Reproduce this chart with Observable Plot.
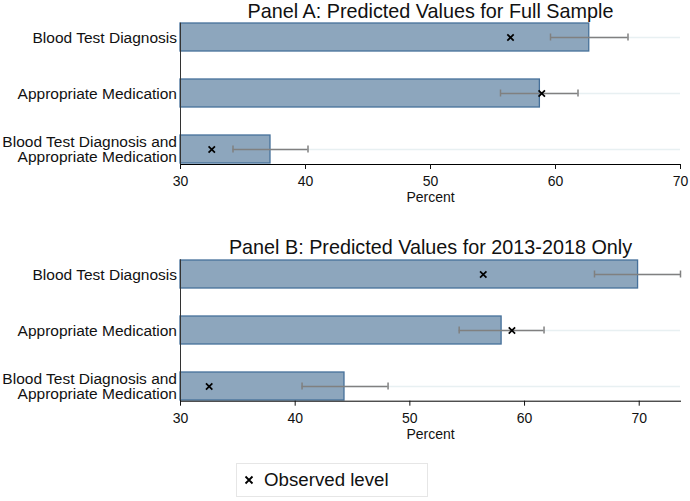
<!DOCTYPE html>
<html><head><meta charset="utf-8">
<script src="https://cdn.jsdelivr.net/npm/d3@7"></script>
<script src="https://cdn.jsdelivr.net/npm/@observablehq/plot@0.6"></script>
<style>
body{margin:0;background:#fff;font-family:"Liberation Sans",Arial,sans-serif;}
#wrap{position:relative;width:690px;height:501px;overflow:hidden;background:#fff}
#a{position:absolute;left:0;top:0}
#b{position:absolute;left:0;top:222px}
#legend{position:absolute;left:236px;top:463px;width:190px;height:32px;border:1px solid #e6e6e6;box-sizing:content-box}
#legend svg{position:absolute;left:7px;top:11px}
#legend span{position:absolute;left:27px;top:5px;font-size:18.7px;color:#111;line-height:22px}
</style></head>
<body>
<div id="wrap">
  <div id="a"></div>
  <div id="b"></div>
  <div id="legend"><svg width="10" height="10"><path d="M1.5,1.5L8.5,8.5M8.5,1.5L1.5,8.5" stroke="#000" stroke-width="1.8"/></svg><span>Observed level</span></div>
</div>
<script>
const categories = ["Blood Test Diagnosis", "Appropriate Medication", "Blood Test Diagnosis and\nAppropriate Medication"];
const observed = [56.4, 58.9, 32.5];
const panelA_pred = [62.7, 58.75, 37.2];
const panelA_lo = [59.6, 55.6, 34.2];
const panelA_hi = [65.8, 61.8, 40.2];
const panelB_pred = [69.9, 58.0, 44.3];
const panelB_lo = [66.1, 54.3, 40.6];
const panelB_hi = [73.6, 61.7, 48.1];
const xTicks = [30, 40, 50, 60, 70];
const xBase = 30;
const panelA_max = 70;
const panelB_max = 73.6;
const titleA = "Panel A: Predicted Values for Full Sample";
const titleB = "Panel B: Predicted Values for 2013-2018 Only";
const xLabel = "Percent";
const legendLabel = "Observed level";

const FONT = '"Liberation Sans", Arial, sans-serif';

function panel(title, pred, lo, hi, xmax, opts) {
  const rows = categories.map((c, i) => ({cat: c, pred: pred[i], lo: lo[i], hi: hi[i], obs: observed[i]}));
  const errStyle = {stroke: "#808080", strokeWidth: 1.5};
  return Plot.plot({
    width: 690,
    height: opts.height,
    marginLeft: 180,
    marginRight: 10,
    marginTop: opts.marginTop,
    marginBottom: opts.height - opts.bottomY,
    style: {fontFamily: FONT, fontSize: "14px", background: "white", color: "#111"},
    x: {domain: [xBase, xmax], label: null},
    y: {domain: categories, paddingInner: 0.5, paddingOuter: 0, label: null},
    marks: [
      Plot.ruleY(rows, {y: "cat", stroke: "#e8f0f2", strokeWidth: 1.5}),
      Plot.barX(rows, {y: "cat", x1: xBase, x2: "pred", fill: "#8da6bd", stroke: "#46709a", strokeWidth: 1.3}),
      Plot.ruleY(rows, {y: "cat", x1: "lo", x2: "hi", ...errStyle}),
      Plot.tickX(rows, {y: "cat", x: "lo", insetTop: 10.5, insetBottom: 10.5, ...errStyle}),
      Plot.tickX(rows, {y: "cat", x: "hi", insetTop: 10.5, insetBottom: 10.5, ...errStyle}),
      Plot.dot(rows, {y: "cat", x: "obs", symbol: "times", r: 3, stroke: "#000", strokeWidth: 1.7}),
      Plot.frame({anchor: "left", stroke: "#333"}),
      Plot.frame({anchor: "bottom", stroke: "#000"}),
      Plot.axisX({ticks: xTicks, tickSize: 5, tickPadding: 7, fontSize: 14, label: null}),
      Plot.axisY({tickSize: 0, tickPadding: 3.5, fontSize: 15.5, lineHeight: 1.01, label: null}),
      Plot.text([xLabel], {frameAnchor: "bottom", lineAnchor: "middle", dy: 33, fontSize: 14}),
      Plot.text([title], {frameAnchor: "top", lineAnchor: "middle", dy: opts.titleDy, fontSize: 19.8})
    ]
  });
}

document.getElementById("a").append(panel(titleA, panelA_pred, panelA_lo, panelA_hi, panelA_max,
  {height: 222, marginTop: 22.7, bottomY: 164, titleDy: -11.7}));
document.getElementById("b").append(panel(titleB, panelB_pred, panelB_lo, panelB_hi, panelB_max,
  {height: 240, marginTop: 37.3, bottomY: 178.7, titleDy: -12.2}));
document.querySelector("#legend span").textContent = legendLabel;
</script>
</body></html>
